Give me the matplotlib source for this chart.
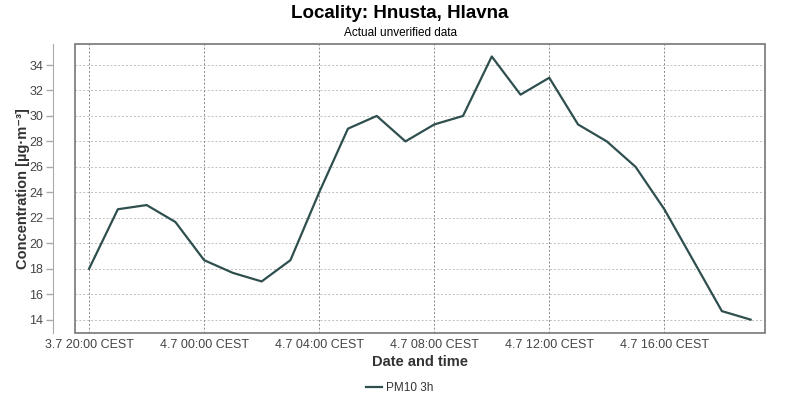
import matplotlib
matplotlib.use("Agg")
import matplotlib.pyplot as plt
from matplotlib.patches import Rectangle

plt.rcParams['font.family'] = ['Liberation Sans', 'DejaVu Sans']

hours = list(range(0, 24))  # hours after 3.7 20:00
values = [18.0, 22.67, 23.0, 21.67, 18.67, 17.67, 17.0, 18.67, 24.0, 29.0, 30.0, 28.0,
          29.33, 30.0, 34.67, 31.67, 33.0, 29.33, 28.0, 26.0, 22.67, 18.67, 14.67, 14.0]
tick_pos = [0, 4, 8, 12, 16, 20]
tick_labels = ['3.7 20:00 CEST', '4.7 00:00 CEST', '4.7 04:00 CEST',
               '4.7 08:00 CEST', '4.7 12:00 CEST', '4.7 16:00 CEST']
yticks = [14, 16, 18, 20, 22, 24, 26, 28, 30, 32, 34]

fig = plt.figure(figsize=(8, 4), dpi=100)
ax = fig.add_axes([75/800, 67/400, 690/800, 289/400])
ax.plot(hours, values, color='#2F4F4F', lw=1.6, label='PM10 3h', zorder=3)
ax.set_xlim(-0.49, 23.5)
ax.set_ylim(12.95, 35.65)

ax.set_xticks(tick_pos)
ax.set_xticklabels(tick_labels)
ax.set_yticks(yticks)
ax.tick_params(axis='x', length=0, pad=4, labelsize=9, labelcolor='#444444')
ax.tick_params(axis='y', length=5, width=1, color='#aaaaaa', pad=2, labelsize=9, labelcolor='#444444')

for s in ['top', 'right', 'bottom']:
    ax.spines[s].set_visible(False)
ax.spines['left'].set_position(('outward', 16))
ax.spines['left'].set_color('#aaaaaa')
ax.add_patch(Rectangle((0, 0), 1, 1, transform=ax.transAxes, fill=False,
                       ec='#777777', lw=1.2, zorder=4, clip_on=False))

for y in yticks:
    ax.axhline(y, color='#c0c0c0', lw=0.7, ls=(0, (2, 2)), zorder=1)
for x in tick_pos:
    ax.axvline(x, color='#888888', lw=0.7, ls=(0, (2, 2)), zorder=1)

ax.set_xlabel('Date and time', fontsize=10.5, fontweight='bold', color='#333333', labelpad=3)
ax.set_ylabel('Concentration [µg·m⁻³]', fontsize=10.5, fontweight='bold', color='#333333', labelpad=-1)

fig.text(0.5, 386/400, 'Locality: Hnusta, Hlavna', ha='center', va='center',
         fontsize=13.5, fontweight='bold', color='black')
fig.text(0.5, 367.5/400, 'Actual unverified data', ha='center', va='center',
         fontsize=8.5, color='black')

leg = fig.legend(loc='center', bbox_to_anchor=(0.5, 12/400), frameon=False,
                 fontsize=8.5, handlelength=1.3, handletextpad=0.4)
for t in leg.get_texts():
    t.set_color('#333333')

fig.savefig('out.png', dpi=100)
